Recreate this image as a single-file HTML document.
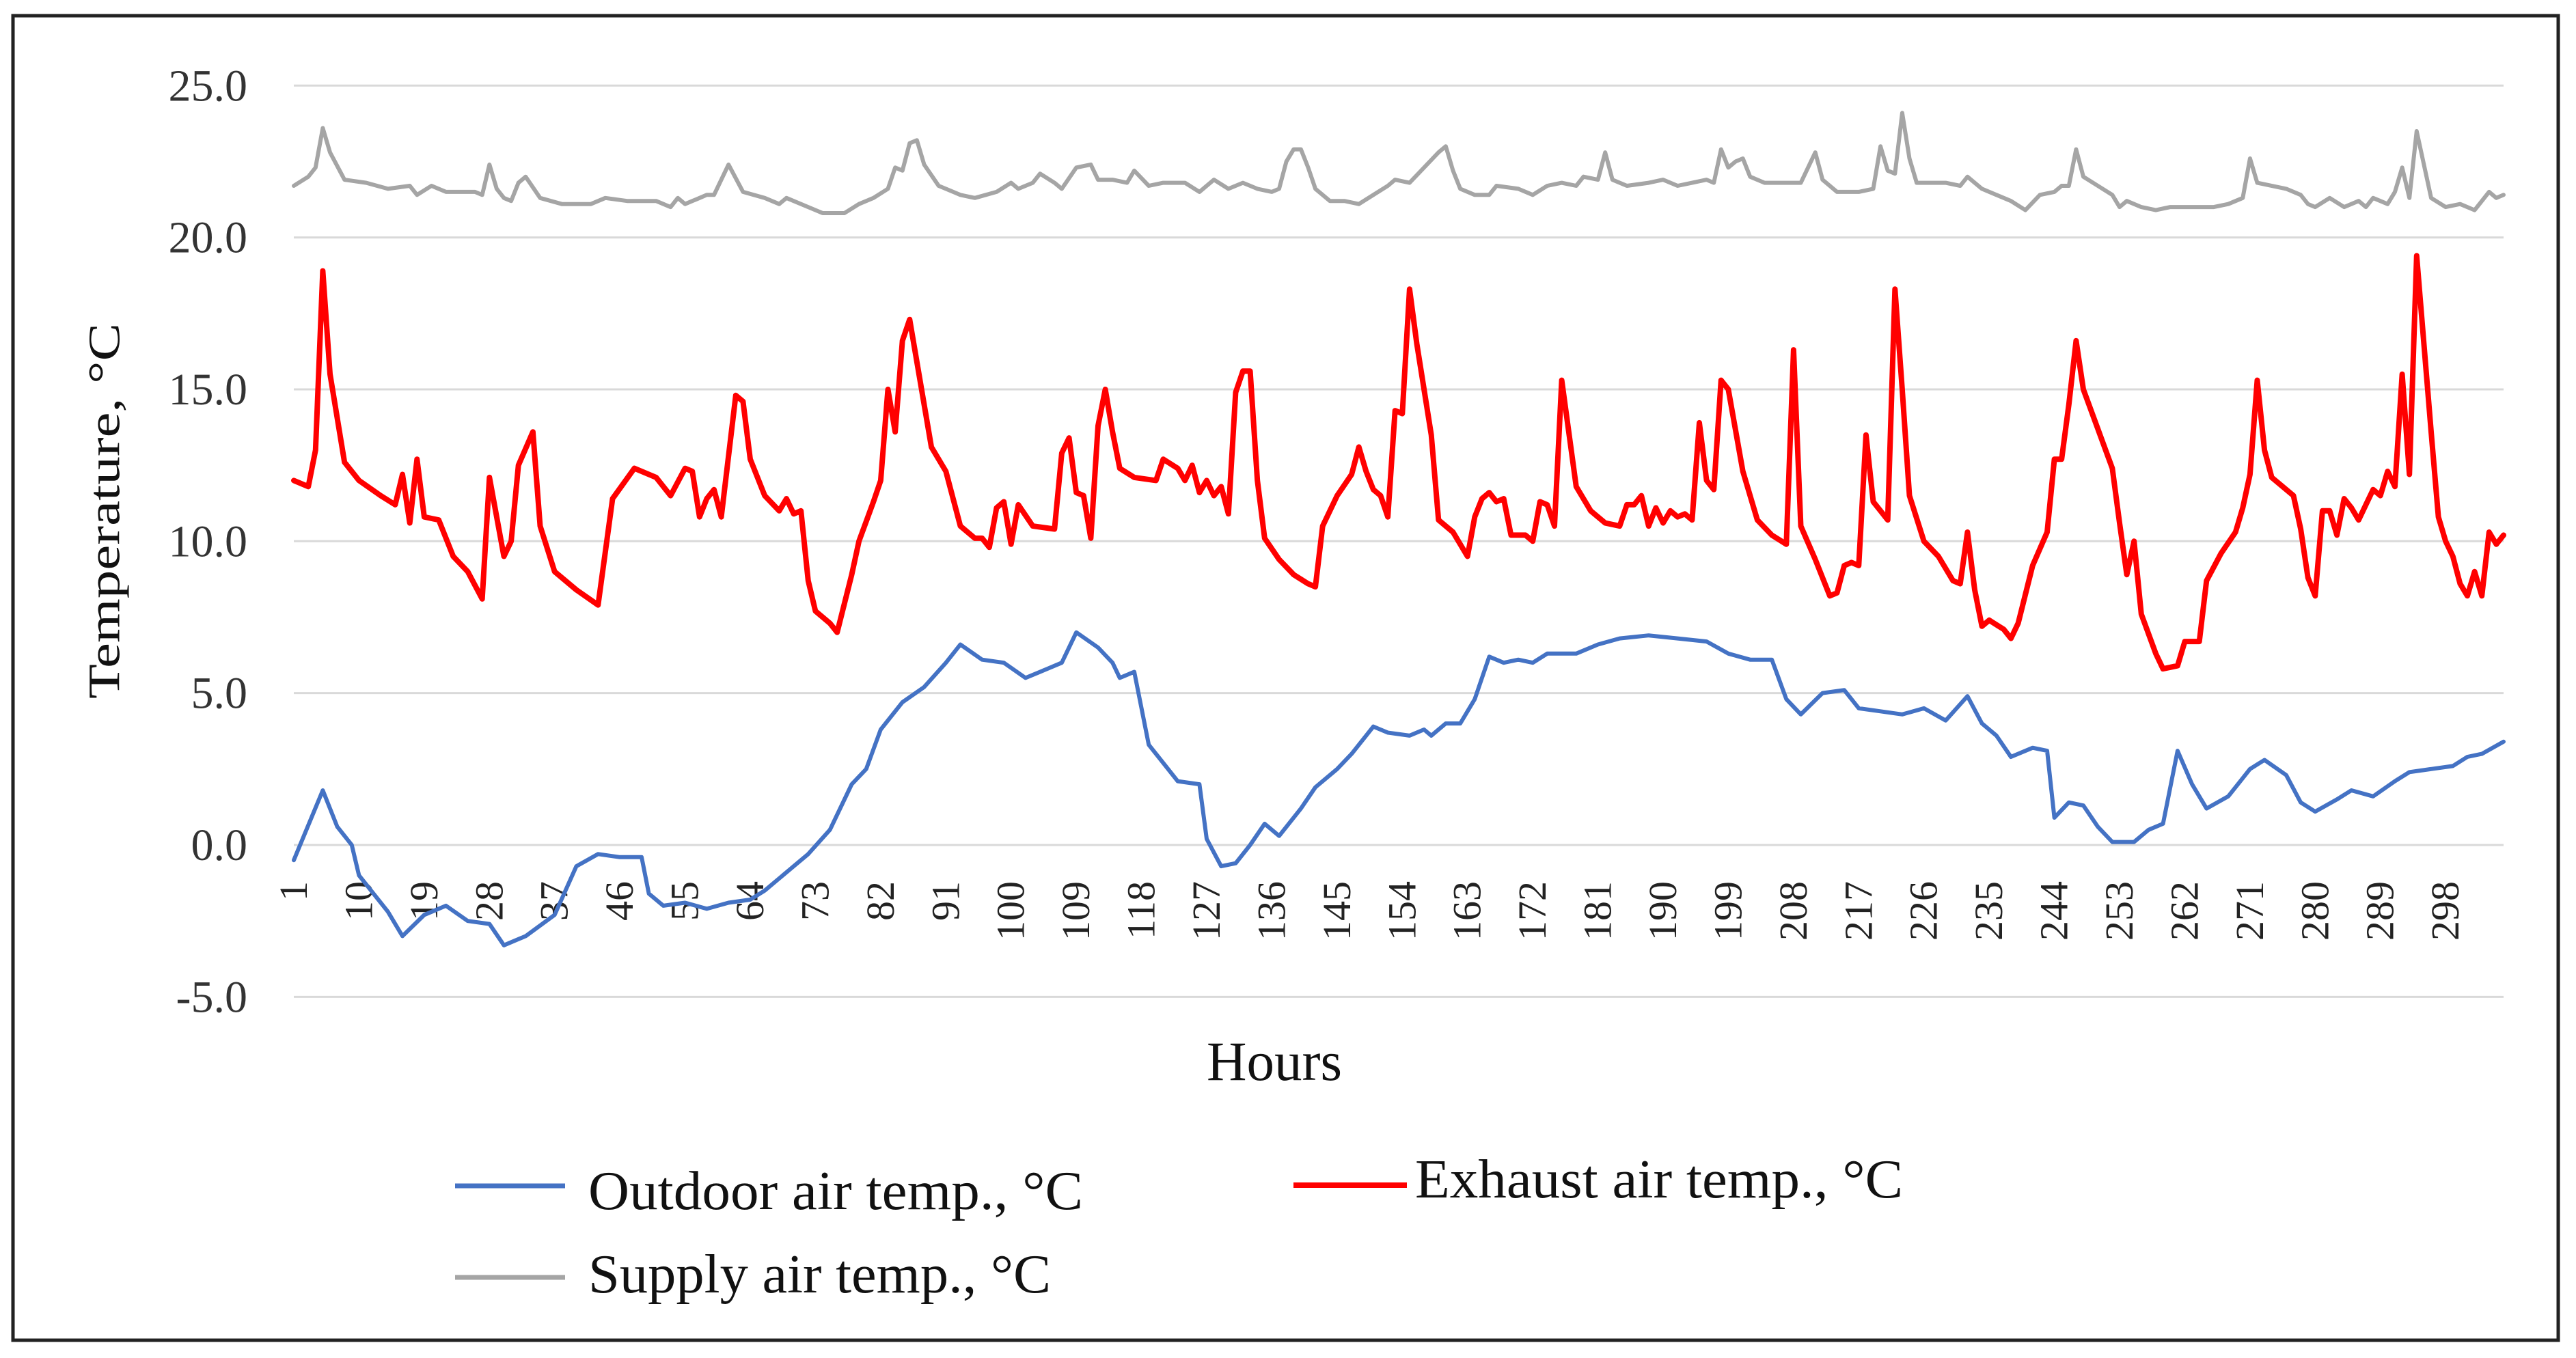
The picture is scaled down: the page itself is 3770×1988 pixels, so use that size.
<!DOCTYPE html>
<html><head><meta charset="utf-8"><style>
html,body{margin:0;padding:0;background:#fff;}
svg{display:block;font-family:"Liberation Serif",serif;}
</style></head><body>
<svg id="chart" width="3770" height="1988" viewBox="0 0 3770 1988">
<rect x="0" y="0" width="3770" height="1988" fill="#fff"/>
<rect x="19" y="23" width="3725" height="1939" fill="none" stroke="#222" stroke-width="5"/>
<g id="grid"></g>
<g id="ylabels"></g>
<g id="xlabels"></g>
<g id="series"></g>
<text x="153" y="748" transform="rotate(-90 153 748)" text-anchor="middle" dominant-baseline="central" font-size="66" textLength="550" lengthAdjust="spacingAndGlyphs" fill="#111">Temperature, °C</text>
<text x="1865" y="1581" text-anchor="middle" font-size="82" textLength="198" lengthAdjust="spacingAndGlyphs" fill="#111">Hours</text>
<g>
<g>
<line x1="666" y1="1736" x2="827" y2="1736" stroke="#4472C4" stroke-width="7"/>
<text x="861" y="1770" font-size="80" textLength="724" lengthAdjust="spacingAndGlyphs" fill="#111">Outdoor air temp., °C</text>
</g>
<g>
<line x1="1893" y1="1735" x2="2059" y2="1735" stroke="#FF0000" stroke-width="8"/>
<text x="2071" y="1753" font-size="80" textLength="714" lengthAdjust="spacingAndGlyphs" fill="#111">Exhaust air temp., °C</text>
</g>
<g>
<line x1="666" y1="1870" x2="827" y2="1870" stroke="#A5A5A5" stroke-width="7"/>
<text x="861" y="1892" font-size="80" textLength="677" lengthAdjust="spacingAndGlyphs" fill="#111">Supply air temp., °C</text>
</g>
</g>
</svg>
<script>
const yTicks=[-5,0,5,10,15,20,25];
const yTickLabels=["-5.0","0.0","5.0","10.0","15.0","20.0","25.0"];
const xTickHours=[1,10,19,28,37,46,55,64,73,82,91,100,109,118,127,136,145,154,163,172,181,190,199,208,217,226,235,244,253,262,271,280,289,298];
const outdoorHours=[1,5,7,9,10,14,16,19,22,25,28,30,33,37,40,43,46,49,50,52,55,58,61,64,66,70,72,75,78,80,82,85,88,91,93,96,99,102,105,107,109,112,114,115,117,119,121,123,126,127,129,131,133,135,137,140,142,145,147,150,152,155,157,158,160,162,164,166,168,170,172,174,178,181,184,188,192,196,199,202,205,207,209,212,215,217,220,223,226,229,232,234,236,238,241,243,244,246,248,250,252,255,257,259,261,263,265,268,271,273,276,278,280,283,285,288,291,293,296,299,301,303,306];
const outdoorValues=[-0.5,1.8,0.6,0,-1.0,-2.2,-3.0,-2.3,-2.0,-2.5,-2.6,-3.3,-3.0,-2.3,-0.7,-0.3,-0.4,-0.4,-1.6,-2.0,-1.9,-2.1,-1.9,-1.8,-1.5,-0.7,-0.3,0.5,2.0,2.5,3.8,4.7,5.2,6.0,6.6,6.1,6.0,5.5,5.8,6.0,7.0,6.5,6.0,5.5,5.7,3.3,2.7,2.1,2.0,0.2,-0.7,-0.6,0,0.7,0.3,1.2,1.9,2.5,3.0,3.9,3.7,3.6,3.8,3.6,4.0,4.0,4.8,6.2,6.0,6.1,6.0,6.3,6.3,6.6,6.8,6.9,6.8,6.7,6.3,6.1,6.1,4.8,4.3,5.0,5.1,4.5,4.4,4.3,4.5,4.1,4.9,4.0,3.6,2.9,3.2,3.1,0.9,1.4,1.3,0.6,0.1,0.1,0.5,0.7,3.1,2.0,1.2,1.6,2.5,2.8,2.3,1.4,1.1,1.5,1.8,1.6,2.1,2.4,2.5,2.6,2.9,3.0,3.4];
const exhaustHours=[1,3,4,5,6,8,10,13,15,16,17,18,19,21,23,25,27,28,30,31,32,34,35,37,40,43,45,48,51,53,55,56,57,58,59,60,62,63,64,66,68,69,70,71,72,73,75,76,78,79,81,82,83,84,85,86,88,89,91,93,95,96,97,98,99,100,101,103,106,107,108,109,110,111,112,113,114,115,117,120,121,123,124,125,126,127,128,129,130,131,132,133,134,135,137,139,141,142,143,145,147,148,149,150,151,152,153,154,155,156,158,159,161,163,164,165,166,167,168,169,171,172,173,174,175,176,178,180,182,184,185,186,187,188,189,190,191,192,193,194,195,196,197,198,199,201,203,205,207,208,209,211,213,214,215,216,217,218,219,220,221,222,223,224,226,228,230,231,232,233,234,235,237,238,239,241,243,244,245,246,247,248,250,252,253,254,255,256,258,259,261,262,264,265,267,269,270,271,272,273,274,276,277,278,279,280,281,282,283,284,285,286,287,288,289,290,291,292,293,294,296,297,298,299,300,301,302,303,304,305,306];
const exhaustValues=[12.0,11.8,13,18.9,15.5,12.6,12,11.5,11.2,12.2,10.6,12.7,10.8,10.7,9.5,9,8.1,12.1,9.5,10.0,12.5,13.6,10.5,9.0,8.4,7.9,11.4,12.4,12.1,11.5,12.4,12.3,10.8,11.4,11.7,10.8,14.8,14.6,12.7,11.5,11.0,11.4,10.9,11.0,8.7,7.7,7.3,7.0,8.9,10.0,11.3,12.0,15.0,13.6,16.6,17.3,14.5,13.1,12.3,10.5,10.1,10.1,9.8,11.1,11.3,9.9,11.2,10.5,10.4,12.9,13.4,11.6,11.5,10.1,13.8,15,13.6,12.4,12.1,12.0,12.7,12.4,12.0,12.5,11.6,12.0,11.5,11.8,10.9,14.9,15.6,15.6,12.0,10.1,9.4,8.9,8.6,8.5,10.5,11.5,12.2,13.1,12.3,11.7,11.5,10.8,14.3,14.2,18.3,16.5,13.5,10.7,10.3,9.5,10.8,11.4,11.6,11.3,11.4,10.2,10.2,10.0,11.3,11.2,10.5,15.3,11.8,11.0,10.6,10.5,11.2,11.2,11.5,10.5,11.1,10.6,11.0,10.8,10.9,10.7,13.9,12.0,11.7,15.3,15.0,12.3,10.7,10.2,9.9,16.3,10.5,9.4,8.2,8.3,9.2,9.3,9.2,13.5,11.3,11.0,10.7,18.3,15,11.5,10.0,9.5,8.7,8.6,10.3,8.4,7.2,7.4,7.1,6.8,7.3,9.2,10.3,12.7,12.7,14.5,16.6,15.0,13.7,12.4,10.6,8.9,10.0,7.6,6.3,5.8,5.9,6.7,6.7,8.7,9.6,10.3,11.1,12.2,15.3,13.0,12.1,11.7,11.5,10.4,8.8,8.2,11.0,11.0,10.2,11.4,11.1,10.7,11.2,11.7,11.5,12.3,11.8,15.5,12.2,19.4,13.6,10.8,10.0,9.5,8.6,8.2,9.0,8.2,10.3,9.9,10.2,9.6];
const supplyHours=[1,3,4,5,6,8,11,14,17,18,20,22,26,27,28,29,30,31,32,33,35,38,42,44,47,51,53,54,55,57,58,59,61,63,66,68,69,72,74,77,79,81,83,84,85,86,87,88,90,93,95,98,100,101,103,104,106,107,109,111,112,114,116,117,119,121,124,126,128,130,132,134,136,137,138,139,140,141,142,144,146,148,150,152,153,155,157,159,160,161,162,164,166,167,170,172,174,176,178,179,181,182,183,185,188,190,192,194,196,197,198,199,200,201,202,204,208,209,211,212,214,217,219,220,221,222,223,224,225,229,231,232,234,236,238,240,242,244,245,246,247,248,250,252,253,254,256,258,260,263,266,268,270,271,272,276,278,279,280,282,284,286,287,288,290,291,292,293,294,295,296,298,300,302,304,305,306];
const supplyValues=[21.7,22.0,22.3,23.6,22.8,21.9,21.8,21.6,21.7,21.4,21.7,21.5,21.5,21.4,22.4,21.6,21.3,21.2,21.8,22.0,21.3,21.1,21.1,21.3,21.2,21.2,21.0,21.3,21.1,21.3,21.4,21.4,22.4,21.5,21.3,21.1,21.3,21.0,20.8,20.8,21.1,21.3,21.6,22.3,22.2,23.1,23.2,22.4,21.7,21.4,21.3,21.5,21.8,21.6,21.8,22.1,21.8,21.6,22.3,22.4,21.9,21.9,21.8,22.2,21.7,21.8,21.8,21.5,21.9,21.6,21.8,21.6,21.5,21.6,22.5,22.9,22.9,22.3,21.6,21.2,21.2,21.1,21.4,21.7,21.9,21.8,22.3,22.8,23.0,22.2,21.6,21.4,21.4,21.7,21.6,21.4,21.7,21.8,21.7,22.0,21.9,22.8,21.9,21.7,21.8,21.9,21.7,21.8,21.9,21.8,22.9,22.3,22.5,22.6,22.0,21.8,21.8,21.8,22.8,21.9,21.5,21.5,21.6,23.0,22.2,22.1,24.1,22.6,21.8,21.8,21.7,22.0,21.6,21.4,21.2,20.9,21.4,21.5,21.7,21.7,22.9,22.0,21.7,21.4,21.0,21.2,21.0,20.9,21.0,21.0,21.0,21.1,21.3,22.6,21.8,21.6,21.4,21.1,21.0,21.3,21.0,21.2,21.0,21.3,21.1,21.5,22.3,21.3,23.5,22.4,21.3,21.0,21.1,20.9,21.5,21.3,21.4];

const NS='http://www.w3.org/2000/svg';
const PL=430,PR=3664,H0=1,H1=306;
function xScale(h){return PL+(h-H0)/(H1-H0)*(PR-PL);}
function yScale(v){return 1237-v*44.47;}
function mk(tag,attrs,parent){const e=document.createElementNS(NS,tag);for(const k in attrs)e.setAttribute(k,attrs[k]);parent.appendChild(e);return e;}
const grid=document.getElementById('grid'),yl=document.getElementById('ylabels'),xl=document.getElementById('xlabels'),ser=document.getElementById('series');
yTicks.forEach((v,i)=>{
  const g=mk('line',{x1:PL,x2:PR,y1:yScale(v),y2:yScale(v),stroke:'#d9d9d9','stroke-width':3},grid);
  
  
  const t=mk('text',{x:362,y:yScale(v)+22,'text-anchor':'end','font-size':66,fill:'#333'},yl);
  t.textContent=yTickLabels[i];
  
  
});
xTickHours.forEach(h=>{
  const x=xScale(h)+19;
  const t=mk('text',{x:x,y:1290,'text-anchor':'end','font-size':58,fill:'#222',transform:'rotate(-90 '+x+' 1290)'},xl);
  t.textContent=String(h);
  
  
});
function drawLine(hours,vals,color,w,name){
  const d=hours.map((h,i)=>(i?'L':'M')+xScale(h).toFixed(1)+' '+yScale(vals[i]).toFixed(1)).join(' ');
  const p=mk('path',{d:d,fill:'none',stroke:color,'stroke-width':w,'stroke-linejoin':'round','stroke-linecap':'round'},ser);
  
  
}
drawLine(supplyHours,supplyValues,'#A5A5A5',6,'supply-air-line');
drawLine(exhaustHours,exhaustValues,'#FF0000',8,'exhaust-air-line');
drawLine(outdoorHours,outdoorValues,'#4472C4',6,'outdoor-air-line');
</script>
</body></html>
